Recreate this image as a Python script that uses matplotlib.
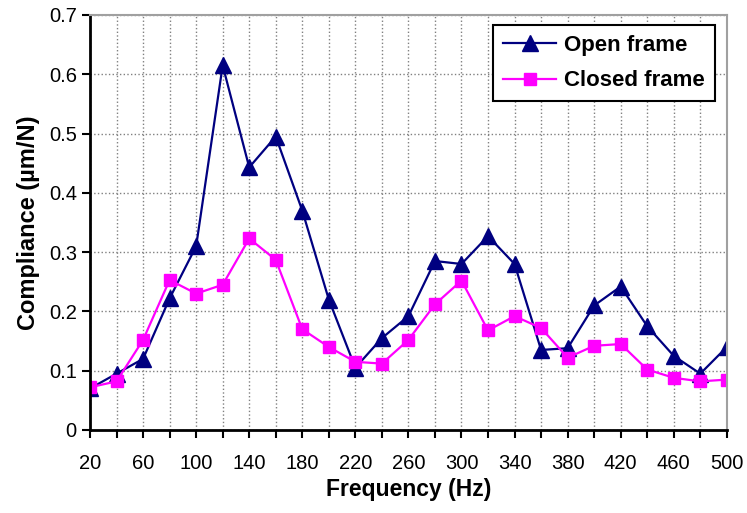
import numpy as np
import matplotlib
matplotlib.use("Agg")
import matplotlib.pyplot as plt

freq = list(range(20, 501, 20))
open_frame = [0.070, 0.095, 0.120, 0.222, 0.310, 0.615, 0.443, 0.495, 0.370, 0.220,
              0.105, 0.155, 0.192, 0.285, 0.280, 0.327, 0.280, 0.135, 0.138, 0.210,
              0.242, 0.175, 0.125, 0.095, 0.140]
closed_frame = [0.072, 0.082, 0.152, 0.253, 0.230, 0.245, 0.323, 0.287, 0.170, 0.140,
                0.115, 0.112, 0.152, 0.212, 0.252, 0.168, 0.192, 0.172, 0.122, 0.142,
                0.145, 0.102, 0.088, 0.082, 0.085]
xtick_labels = [str(v) for v in range(20, 501, 40)]
ytick_vals = [0, 0.1, 0.2, 0.3, 0.4, 0.5, 0.6, 0.7]

font = ['Liberation Sans', 'DejaVu Sans']

fig = plt.figure(figsize=(7.47, 5.13), dpi=100)
ax = fig.add_axes([0.1205, 0.1618, 0.8525, 0.809])

ax.plot(freq, open_frame, color='#000080', marker='^', markersize=11, lw=1.6,
        label='Open frame')
ax.plot(freq, closed_frame, color='#FF00FF', marker='s', markersize=9, lw=1.6,
        label='Closed frame')

ax.set_xlim(20, 500)
ax.set_ylim(0, 0.7)
ax.set_xticks(freq, minor=True)
ax.set_xticks(range(20, 501, 40))
ax.set_xticklabels(xtick_labels, family=font, fontsize=14.5)
ax.set_yticks(ytick_vals)
ax.set_yticklabels(['0'] + ['%.1f' % v for v in ytick_vals[1:]], family=font, fontsize=14.5)

ax.grid(True, which='both', color='#808080', linestyle=':', lw=1)
ax.set_axisbelow(True)
ax.tick_params(which='both', direction='out', length=6, width=1.5, color='black')
ax.tick_params(axis='x', pad=11)
for s in ['left', 'bottom']:
    ax.spines[s].set_linewidth(2)
    ax.spines[s].set_color('black')
for s in ['top', 'right']:
    ax.spines[s].set_linewidth(1.5)
    ax.spines[s].set_color('#a0a0a0')

ax.set_xlabel('Frequency (Hz)', family=font, fontsize=16.5, fontweight='bold', labelpad=4)
ax.set_ylabel('Compliance (\u00b5m/N)', family=font, fontsize=17, fontweight='bold', labelpad=6)

leg = ax.legend(loc='upper right', bbox_to_anchor=(0.981, 0.976), fancybox=False,
                edgecolor='black', framealpha=1, borderpad=0.45, handlelength=2.4,
                labelspacing=0.65, handletextpad=0.35, borderaxespad=0,
                prop={'family': font, 'weight': 'bold', 'size': 16})
leg.get_frame().set_linewidth(1.5)

fig.savefig('out.png', dpi=100)
